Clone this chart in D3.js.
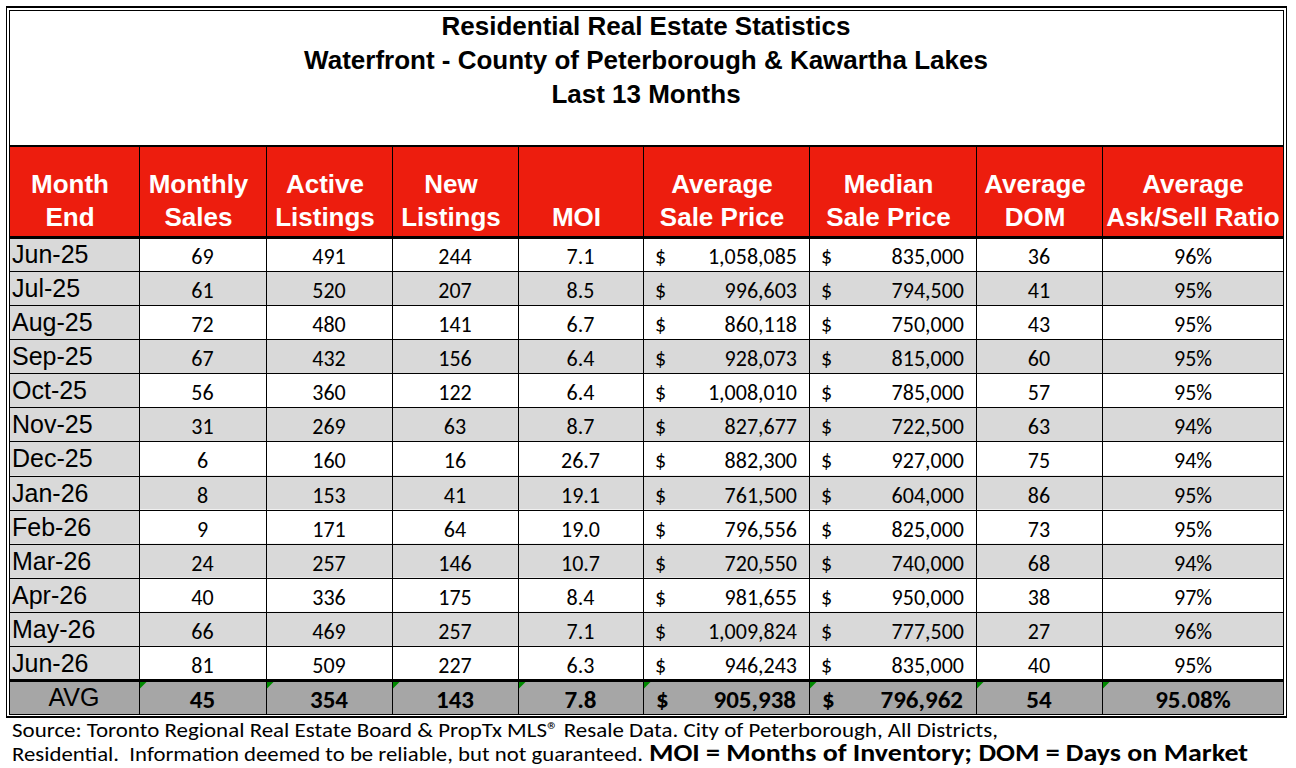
<!DOCTYPE html>
<html>
<head>
<meta charset="utf-8">
<script src="https://cdn.jsdelivr.net/npm/d3@7/dist/d3.min.js"></script>
<style>
  html, body { margin: 0; padding: 0; background: #ffffff; }
  svg { display: block; }
  text { white-space: pre; }
</style>
</head>
<body>
<svg id="chart" width="1296" height="768"></svg>
<script>
// ---------------- DATA ----------------
const titleLines = [
  "Residential Real Estate Statistics",
  "Waterfront - County of Peterborough & Kawartha Lakes",
  "Last 13 Months"
];
const headerLabels = [
  ["Month", "End"],
  ["Monthly", "Sales"],
  ["Active", "Listings"],
  ["New", "Listings"],
  ["MOI"],
  ["Average", "Sale Price"],
  ["Median", "Sale Price"],
  ["Average", "DOM"],
  ["Average", "Ask/Sell Ratio"]
];
const months = ["Jun-25","Jul-25","Aug-25","Sep-25","Oct-25","Nov-25","Dec-25","Jan-26","Feb-26","Mar-26","Apr-26","May-26","Jun-26"];
const monthlySales    = [69, 61, 72, 67, 56, 31, 6, 8, 9, 24, 40, 66, 81];
const activeListings  = [491, 520, 480, 432, 360, 269, 160, 153, 171, 257, 336, 469, 509];
const newListings     = [244, 207, 141, 156, 122, 63, 16, 41, 64, 146, 175, 257, 227];
const moi             = [7.1, 8.5, 6.7, 6.4, 6.4, 8.7, 26.7, 19.1, 19.0, 10.7, 8.4, 7.1, 6.3];
const avgSalePrice    = [1058085, 996603, 860118, 928073, 1008010, 827677, 882300, 761500, 796556, 720550, 981655, 1009824, 946243];
const medianSalePrice = [835000, 794500, 750000, 815000, 785000, 722500, 927000, 604000, 825000, 740000, 950000, 777500, 835000];
const avgDom          = [36, 41, 43, 60, 57, 63, 75, 86, 73, 68, 38, 27, 40];
const askSellRatio    = [96, 95, 95, 95, 95, 94, 94, 95, 95, 94, 97, 96, 95];
const avgLabel = "AVG";
const avgValues = [45, 354, 143, 7.8, 905938, 796962, 54, 95.08];
const footerLine1 = "Source: Toronto Regional Real Estate Board & PropTx MLS\u00AE Resale Data. City of Peterborough, All Districts,";
const footerLine2a = "Residential.  Information deemed to be reliable, but not guaranteed.";
const footerLine2b = "MOI = Months of Inventory; DOM = Days on Market";

// ---------------- LAYOUT ----------------
const W = 1296, H = 768;
const colEdges = [9, 139, 266, 392, 518, 643, 809, 976, 1102, 1284];
const headerTop = 146, headerBottom = 237, bodyBottom = 680, avgBottom = 714;
const RED = "#ED1D0E", GRAY = "#D9D9D9", DARK = "#A6A6A6";
const ARIAL = "'Liberation Sans', Arial, sans-serif";
const CALIBRI = "Carlito, Lato, 'Open Sans', sans-serif";
const DATA_SIZE = 22, AVG_SIZE = 25;

const svg = d3.select("#chart");
svg.append("rect").attr("width", W).attr("height", H).attr("fill", "#fff");

const y = d3.scaleBand().domain(months).range([headerBottom, bodyBottom]).padding(0);
const cols = d3.range(9);
const cx = i => (colEdges[i] + colEdges[i + 1]) / 2;

const fmtInt = d3.format(",");
const fmtMoi = d3.format(".1f");

const columns = [
  months,
  monthlySales.map(String),
  activeListings.map(String),
  newListings.map(String),
  moi.map(fmtMoi),
  avgSalePrice.map(fmtInt),
  medianSalePrice.map(fmtInt),
  avgDom.map(String),
  askSellRatio.map(d => d + "%")
];
const avgTexts = [
  avgLabel,
  String(avgValues[0]), String(avgValues[1]), String(avgValues[2]),
  fmtMoi(avgValues[3]), fmtInt(avgValues[4]), fmtInt(avgValues[5]),
  String(avgValues[6]), d3.format(".2f")(avgValues[7]) + "%"
];

// ---------- Title ----------
const titleBaselines = [35, 69, 103];
svg.selectAll("text.title").data(titleLines).join("text")
  .attr("class", "title")
  .attr("x", W / 2 - 2).attr("y", (d, i) => titleBaselines[i])
  .attr("text-anchor", "middle")
  .attr("font-family", ARIAL).attr("font-weight", "bold").attr("font-size", 26)
  .attr("fill", "#000").text(d => d);

// ---------- Header ----------
const hdr = svg.append("g");
hdr.append("rect").attr("x", colEdges[0]).attr("y", headerTop)
  .attr("width", colEdges[9] - colEdges[0]).attr("height", headerBottom - headerTop).attr("fill", RED);
cols.forEach(i => {
  const lines = headerLabels[i];
  const base = lines.length === 2 ? [193, 226] : [226];
  hdr.selectAll(null).data(lines).join("text")
    .attr("x", cx(i) + (i === 8 ? 0 : -4)).attr("y", (d, k) => base[k])
    .attr("text-anchor", "middle")
    .attr("font-family", ARIAL).attr("font-weight", "bold").attr("font-size", 26)
    .attr("fill", "#fff").text(d => d);
});

// ---------- Body ----------
const body = svg.append("g");
months.forEach((m, r) => {
  const top = y(m);
  cols.forEach(i => {
    const fill = i === 0 ? GRAY : (r % 2 === 1 ? GRAY : "#fff");
    body.append("rect").attr("x", colEdges[i]).attr("y", top)
      .attr("width", colEdges[i + 1] - colEdges[i]).attr("height", y.bandwidth()).attr("fill", fill);
  });
});
body.append("rect").attr("x", colEdges[0]).attr("y", bodyBottom)
  .attr("width", colEdges[9] - colEdges[0]).attr("height", avgBottom - bodyBottom).attr("fill", DARK);

cols.forEach(i => {
  const vals = columns[i];
  vals.forEach((v, r) => {
    const top = y(months[r]);
    if (i === 0) {
      body.append("text").attr("x", colEdges[0] + 3).attr("y", top + 26)
        .attr("font-family", ARIAL).attr("font-size", 25).attr("fill", "#000").text(v);
    } else if (i === 5 || i === 6) {
      body.append("text").attr("x", colEdges[i] + 12).attr("y", top + 27)
        .attr("font-family", CALIBRI).attr("font-size", DATA_SIZE).attr("fill", "#000").text("$");
      body.append("text").attr("x", colEdges[i + 1] - 12).attr("y", top + 27)
        .attr("text-anchor", "end")
        .attr("font-family", CALIBRI).attr("font-size", DATA_SIZE).attr("fill", "#000").text(v);
    } else {
      body.append("text").attr("x", cx(i)).attr("y", top + 27)
        .attr("text-anchor", "middle")
        .attr("font-family", CALIBRI).attr("font-size", DATA_SIZE).attr("fill", "#000").text(v);
    }
  });
});

// AVG texts
avgTexts.forEach((v, i) => {
  if (i === 0) {
    body.append("text").attr("x", cx(0)).attr("y", bodyBottom + 26)
      .attr("text-anchor", "middle")
      .attr("font-family", ARIAL).attr("font-size", 25).attr("fill", "#000").text(v);
  } else if (i === 5 || i === 6) {
    body.append("text").attr("x", colEdges[i] + 13).attr("y", bodyBottom + 28)
      .attr("font-family", CALIBRI).attr("font-weight", "bold").attr("font-size", AVG_SIZE).attr("fill", "#000").text("$");
    body.append("text").attr("x", colEdges[i + 1] - 13).attr("y", bodyBottom + 28)
      .attr("text-anchor", "end")
      .attr("font-family", CALIBRI).attr("font-weight", "bold").attr("font-size", AVG_SIZE).attr("fill", "#000").text(v);
  } else {
    body.append("text").attr("x", cx(i)).attr("y", bodyBottom + 28)
      .attr("text-anchor", "middle")
      .attr("font-family", CALIBRI).attr("font-weight", "bold").attr("font-size", AVG_SIZE).attr("fill", "#000").text(v);
  }
});

// green error-indicator triangles in AVG row
d3.range(1, 9).forEach(i => {
  const x0 = colEdges[i] + 1, y0 = bodyBottom + 1.5;
  body.append("path").attr("d", `M${x0},${y0}L${x0 + 7},${y0}L${x0},${y0 + 7}Z`).attr("fill", "#008A00");
});

// ---------- Grid lines ----------
const grid = svg.append("g").attr("stroke", "#000").attr("shape-rendering", "crispEdges");
months.slice(1).forEach(m => {
  grid.append("line").attr("x1", colEdges[0]).attr("x2", colEdges[9])
    .attr("y1", y(m) + 0.5).attr("y2", y(m) + 0.5).attr("stroke-width", 1);
});
colEdges.slice(1, 9).forEach(x => {
  grid.append("line").attr("x1", x + 0.5).attr("x2", x + 0.5)
    .attr("y1", headerTop).attr("y2", avgBottom).attr("stroke-width", 1);
});
grid.append("line").attr("x1", colEdges[0]).attr("x2", colEdges[9]).attr("y1", headerTop).attr("y2", headerTop).attr("stroke-width", 2);
grid.append("line").attr("x1", colEdges[0]).attr("x2", colEdges[9]).attr("y1", headerBottom).attr("y2", headerBottom).attr("stroke-width", 3);
grid.append("line").attr("x1", colEdges[0]).attr("x2", colEdges[9]).attr("y1", bodyBottom).attr("y2", bodyBottom).attr("stroke-width", 3);

// double outer border
const border = svg.append("g").attr("fill", "none").attr("stroke", "#000").attr("shape-rendering", "crispEdges");
border.append("rect").attr("x", 6.5).attr("y", 7).attr("width", 1280).attr("height", 710).attr("stroke-width", 1.5);
border.append("rect").attr("x", 9.5).attr("y", 10).attr("width", 1274).attr("height", 704).attr("stroke-width", 1);

// ---------- Footer ----------
svg.append("text").attr("x", 12).attr("y", 737)
  .attr("font-family", CALIBRI).attr("font-size", 21).attr("fill", "#000")
  .attr("textLength", 986).attr("lengthAdjust", "spacingAndGlyphs").text(footerLine1);
svg.append("text").attr("x", 12).attr("y", 761)
  .attr("font-family", CALIBRI).attr("font-size", 21).attr("fill", "#000")
  .attr("textLength", 631).attr("lengthAdjust", "spacingAndGlyphs").text(footerLine2a);
svg.append("text").attr("x", 649).attr("y", 761)
  .attr("font-family", CALIBRI).attr("font-weight", "bold").attr("font-size", 24).attr("fill", "#000")
  .attr("textLength", 599).attr("lengthAdjust", "spacingAndGlyphs").text(footerLine2b);
</script>
</body>
</html>
